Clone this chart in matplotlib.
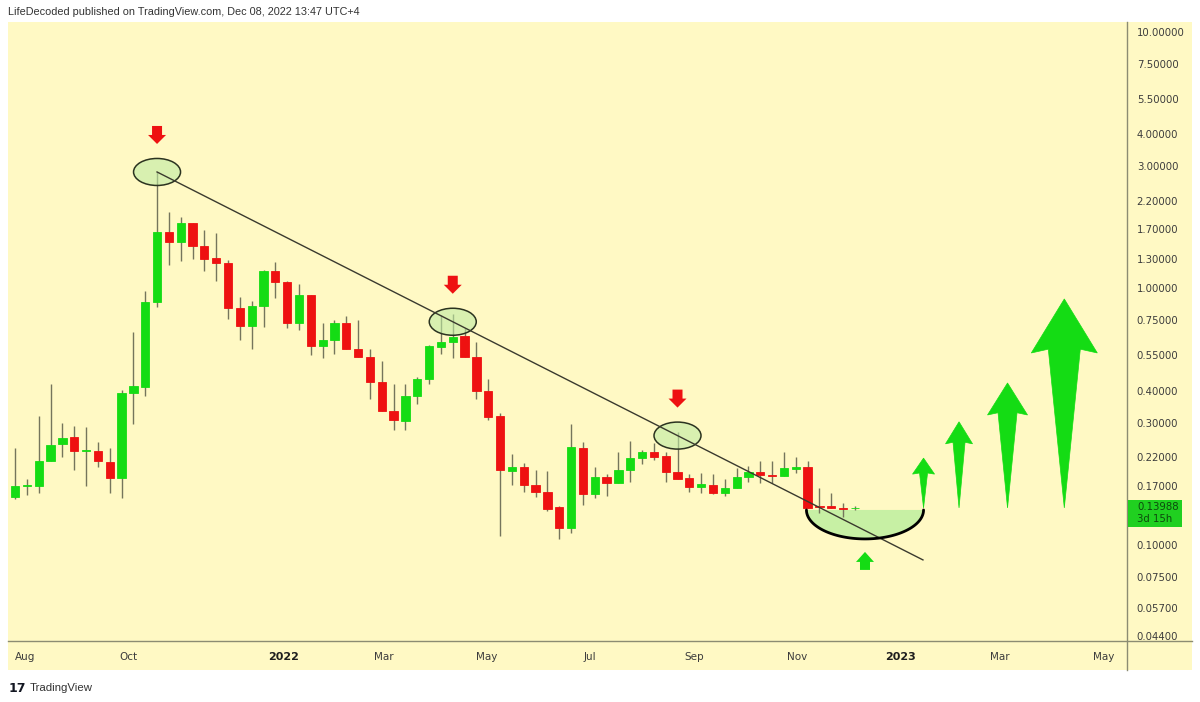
import datetime as dt
import numpy as np
import matplotlib
matplotlib.use("Agg")
import matplotlib.pyplot as plt
import matplotlib.transforms as mtransforms
from matplotlib.patches import Rectangle, Ellipse, Polygon
from matplotlib.lines import Line2D
from matplotlib.ticker import NullLocator

# weekly candles, first one opens Mon 26 Jul 2021
start = dt.date(2021, 7, 26)

opens = [0.154, 0.169, 0.170, 0.213, 0.2475, 0.264, 0.2325, 0.2325, 0.2107, 0.1825,
         0.391, 0.413, 0.886, 1.661, 1.518, 1.80, 1.465, 1.315, 1.257, 0.839,
         0.714, 0.855, 1.170, 1.060, 0.734, 0.943, 0.597, 0.630, 0.734, 0.581,
         0.541, 0.432, 0.333, 0.304, 0.381, 0.444, 0.591, 0.618, 0.653, 0.541,
         0.398, 0.318, 0.1943, 0.2014, 0.1714, 0.1609, 0.1406, 0.1165, 0.2388, 0.158,
         0.1841, 0.1745, 0.196, 0.2184, 0.2304, 0.2223, 0.1925, 0.1825, 0.1683, 0.1714,
         0.1595, 0.1668, 0.1841, 0.1925, 0.1874, 0.1858, 0.1978, 0.2014, 0.1419, 0.1419,
         0.1394, 0.1394]
highs = [0.239, 0.181, 0.318, 0.424, 0.299, 0.291, 0.288, 0.252, 0.239, 0.402,
         0.677, 0.978, 2.846, 1.987, 1.90, 1.80, 1.691, 1.646, 1.291, 0.927,
         0.894, 1.181, 1.268, 1.070, 1.041, 0.943, 0.734, 0.754, 0.781, 0.754,
         0.581, 0.522, 0.424, 0.424, 0.452, 0.602, 0.788, 0.796, 0.702, 0.618,
         0.444, 0.327, 0.2263, 0.2088, 0.196, 0.1943, 0.1419, 0.296, 0.252, 0.2014,
         0.1891, 0.2304, 0.254, 0.2346, 0.250, 0.2304, 0.276, 0.1891, 0.1908, 0.1891,
         0.1809, 0.1996, 0.2032, 0.2126, 0.2126, 0.2304, 0.2203, 0.2126, 0.1668, 0.1595,
         0.1458, 0.1419]
lows = [0.151, 0.157, 0.1595, 0.212, 0.220, 0.196, 0.170, 0.2014, 0.1595, 0.1525,
        0.296, 0.381, 0.847, 1.235, 1.28, 1.303, 1.170, 1.070, 0.760, 0.630,
        0.581, 0.708, 0.918, 0.702, 0.689, 0.551, 0.536, 0.555, 0.581, 0.541,
        0.371, 0.333, 0.281, 0.281, 0.355, 0.424, 0.555, 0.536, 0.541, 0.371,
        0.307, 0.1084, 0.1714, 0.1609, 0.1538, 0.1357, 0.1055, 0.1114, 0.1432, 0.1525,
        0.1552, 0.1745, 0.176, 0.2069, 0.2145, 0.176, 0.1809, 0.1609, 0.1595, 0.158,
        0.1552, 0.1668, 0.176, 0.1745, 0.1745, 0.1858, 0.1908, 0.1394, 0.1332, 0.1394,
        0.1286, 0.1369]
closes = [0.170, 0.1706, 0.213, 0.245, 0.261, 0.2325, 0.2346, 0.2126, 0.1825, 0.391,
          0.417, 0.886, 1.661, 1.518, 1.80, 1.465, 1.303, 1.257, 0.839, 0.714,
          0.855, 1.170, 1.060, 0.734, 0.943, 0.597, 0.630, 0.734, 0.581, 0.541,
          0.432, 0.333, 0.307, 0.381, 0.444, 0.597, 0.618, 0.647, 0.541, 0.398,
          0.3155, 0.196, 0.2014, 0.1714, 0.1609, 0.1382, 0.1165, 0.241, 0.158, 0.1841,
          0.1745, 0.196, 0.2184, 0.2304, 0.2203, 0.1925, 0.1809, 0.1683, 0.1729, 0.1595,
          0.1668, 0.1841, 0.1925, 0.1874, 0.1858, 0.1996, 0.2014, 0.1394, 0.1406, 0.1394,
          0.1382, 0.13988]

price_ticks = [10, 7.5, 5.5, 4, 3, 2.2, 1.7, 1.3, 1.0, 0.75, 0.55, 0.40, 0.30,
               0.22, 0.17, 0.10, 0.075, 0.057, 0.044]
month_dates = [dt.date(2021, 8, 1), dt.date(2021, 10, 1), dt.date(2022, 1, 1),
               dt.date(2022, 3, 1), dt.date(2022, 5, 1), dt.date(2022, 7, 1),
               dt.date(2022, 9, 1), dt.date(2022, 11, 1), dt.date(2023, 1, 1),
               dt.date(2023, 3, 1), dt.date(2023, 5, 1)]
month_labels = ["Aug", "Oct", "2022", "Mar", "May", "Jul", "Sep", "Nov", "2023", "Mar", "May"]

last_price = 0.13988
countdown = "3d 15h"

# drawing annotations
trend_start_week = 12
trend_end_week, trend_end_price = 76.75, 0.0874
touch_weeks = [12, 37, 56]
bowl_left_week, bowl_right_week, bowl_top = 66.9, 76.8, 0.1369
bowl_arrow_tip = 0.0939
target_weeks = [76.8, 79.8, 83.9, 88.7]
target_prices = [0.218, 0.302, 0.428, 0.910]
target_base = 0.1394

BG = "#fff9c4"
GREEN = "#14dc14"
RED = "#ee1111"
WICK = "#75755c"
AXLINE = "#8c8c72"

fig = plt.figure(figsize=(12, 7.02), dpi=100)
W, H = 1200, 702
fig.patches.append(Rectangle((8 / W, 32 / H), 1184 / W, 648 / H, transform=fig.transFigure,
                             facecolor=BG, edgecolor="none", zorder=-10))
ax = fig.add_axes([8 / W, 61 / H, 1119 / W, 619 / H])
ax.set_facecolor(BG)
ax.set_yscale("log")
ax.set_ylim(0.0422, 10.94)
ax.set_xlim(-0.6, 94.0)
for s in ax.spines.values():
    s.set_visible(False)

# candles
weeks = np.arange(len(opens))
for i, o, h, l, c in zip(weeks, opens, highs, lows, closes):
    col = GREEN if c >= o else RED
    ax.vlines(i, l, h, color=WICK, lw=1, zorder=2)
    ax.bar(i, abs(c - o), bottom=min(o, c), width=0.7, color=col, edgecolor=col,
           lw=0.6, zorder=3)

# trend line (straight on log axis)
p0 = highs[trend_start_week]
ax.plot([trend_start_week, trend_end_week], [p0, trend_end_price], color="#3a3a2e",
        lw=1.0, zorder=6)


def trend_at(w):
    f = (w - trend_start_week) / (trend_end_week - trend_start_week)
    return 10 ** (np.log10(p0) + f * (np.log10(trend_end_price) - np.log10(p0)))


T = ax.transData
ID = mtransforms.IdentityTransform()


def px(w, p):
    return T.transform((w, p))


# touch ellipses + red arrows
for w in touch_weeks:
    cx, cy = px(w, trend_at(w))
    ax.add_patch(Ellipse((cx, cy), 47, 27, transform=ID,
                         facecolor=(190 / 255, 234 / 255, 163 / 255, 0.6),
                         edgecolor="#2b3320", lw=1.1, zorder=5))
    ty = cy + 28
    arrow = [(0, 0), (-9, 9), (-5, 9), (-5, 18), (5, 18), (5, 9), (9, 9)]
    ax.add_patch(Polygon([(cx + a, ty + b) for a, b in arrow], closed=True, transform=ID,
                         facecolor=RED, edgecolor="none", zorder=7))

# rounding bottom
lx, topy = px(bowl_left_week, bowl_top)
rx, _ = px(bowl_right_week, bowl_top)
mx, rr, depth = (lx + rx) / 2, (rx - lx) / 2, 29
t = np.linspace(np.pi, 2 * np.pi, 80)
arc_x = mx + rr * np.cos(t)
arc_y = topy + depth * np.sin(t)
ax.add_patch(Polygon(np.column_stack([arc_x, arc_y]), closed=True, transform=ID,
                     facecolor=(163 / 255, 234 / 255, 144 / 255, 0.6), edgecolor="none",
                     zorder=1.5))
ax.plot(arc_x, arc_y, color="black", lw=2.0, transform=ID, zorder=6,
        solid_capstyle="round")

# small arrow under the bowl
ax_, ay_ = px((bowl_left_week + bowl_right_week) / 2, bowl_arrow_tip)
small = [(0, 0), (9, -10), (5, -10), (5, -18), (-5, -18), (-5, -10), (-9, -10)]
ax.add_patch(Polygon([(ax_ + a, ay_ + b) for a, b in small], closed=True, transform=ID,
                     facecolor=GREEN, edgecolor="none", zorder=7))

# target arrows
head_w = [22, 27, 40, 66]
head_h = [16, 22, 32, 54]
shaft_w = [8, 12, 19, 32]
for w, p, hw, hh, sw in zip(target_weeks, target_prices, head_w, head_h, shaft_w):
    tx, ty = px(w, p)
    _, by = px(w, target_base)
    L = ty - by
    notch = hh * 0.07
    verts = [(0, 0), (hw / 2, -hh), (sw / 2, -hh + notch), (0, -L),
             (-sw / 2, -hh + notch), (-hw / 2, -hh)]
    ax.add_patch(Polygon([(tx + a, ty + b) for a, b in verts], closed=True, transform=ID,
                         facecolor=GREEN, edgecolor=GREEN, lw=0.5, zorder=7))

# axes ticks
ax.yaxis.tick_right()
ax.set_yticks(price_ticks)
ax.set_yticklabels([f"{v:.5f}" for v in price_ticks])
ax.yaxis.set_minor_locator(NullLocator())
ax.tick_params(axis="y", length=0, pad=7, labelsize=7.3, labelcolor="#3c3c3c")

xt = [(d - start).days / 7 for d in month_dates]
ax.set_xticks(xt)
ax.set_xticklabels(month_labels)
ax.xaxis.set_minor_locator(NullLocator())
ax.tick_params(axis="x", length=0, pad=8, labelsize=7.5, labelcolor="#3c3c3c")
for lab in ax.get_xticklabels():
    if lab.get_text() in ("2022", "2023"):
        lab.set_fontweight("bold")
        lab.set_color("#1e1e1e")
        lab.set_fontsize(8)

# axis lines
fig.add_artist(Line2D([8 / W, 1192 / W], [61 / H, 61 / H], color=AXLINE, lw=1))
fig.add_artist(Line2D([1127 / W, 1127 / W], [32 / H, 680 / H], color=AXLINE, lw=1))

# last price label
_, ly = px(0, last_price)
fig.patches.append(Rectangle((1128, ly - 19), 54, 27, transform=ID, facecolor="#20d020",
                             edgecolor="none", zorder=5))
fig.text(1137 / W, (ly + 1) / H, f"{last_price:.5f}", fontsize=7.3, color="#0d4a0d",
         va="center", ha="left", zorder=8)
fig.text(1137 / W, (ly - 11) / H, countdown, fontsize=7.3, color="#0d4a0d",
         va="center", ha="left", zorder=8)

# header / footer
fig.text(8 / W, 1 - 12 / H, "LifeDecoded published on TradingView.com, Dec 08, 2022 13:47 UTC+4",
         fontsize=7.8, family="Liberation Sans", color="#333333", va="center", ha="left")
fig.text(9 / W, 1 - 688 / H, "17", fontsize=9, fontweight="heavy", color="#131722",
         va="center", ha="left")
fig.text(30 / W, 1 - 688 / H, "TradingView", fontsize=8.2, family="Liberation Sans",
         color="#333333", va="center", ha="left")

fig.savefig("out.png", dpi=100, facecolor="white")
